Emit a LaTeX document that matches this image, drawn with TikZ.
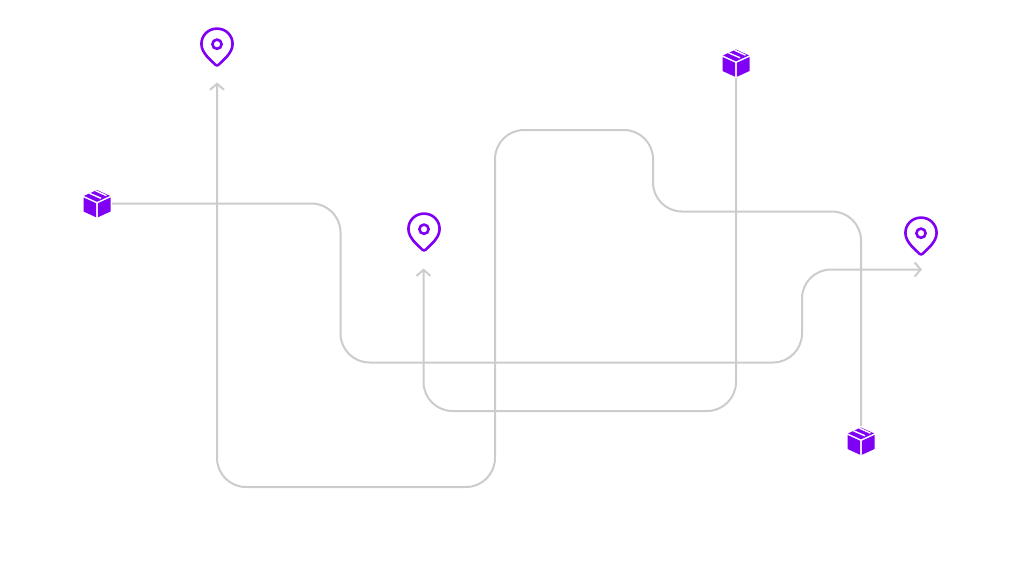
\documentclass[tikz,border=0pt]{standalone}
\usepackage{xcolor}
\usetikzlibrary{arrows.meta}
\definecolor{iconpurple}{HTML}{7F00F5}
\definecolor{routegrey}{HTML}{CCCCCC}
\tikzset{
  route/.style={draw=routegrey, line width=2pt, rounded corners=29pt},
  routeend/.style={-{Straight Barb[length=6pt,width=14pt,line width=2pt]}},
  pinmark/.pic={
    \draw[iconpurple, line width=2.6pt, line join=round]
      (-1.8,17.6) .. controls (-5,14) and (-15.6,6.5) .. (-15.6,-3)
      .. controls (-15.6,-11.8) and (-8.6,-18.4) .. (0,-18.4)
      .. controls (8.6,-18.4) and (15.6,-11.8) .. (15.6,-3)
      .. controls (15.6,6.5) and (5,14) .. (1.8,17.6)
      .. controls (0.8,18.7) and (-0.8,18.7) .. (-1.8,17.6) -- cycle;
    \draw[iconpurple, line width=2.6pt] (0,-2.8) circle (4.6);
  },
  parcelmark/.pic={
    \fill[white] (0,-15) -- (15,-8) -- (15,8) -- (0,15) -- (-15,8) -- (-15,-8) -- cycle;
    \fill[iconpurple] (-13.5,-6) -- (-0.8,-0.2) -- (-0.8,13.8) -- (-13.5,8) -- cycle;
    \fill[iconpurple] (13.5,-6) -- (0.8,-0.2) -- (0.8,13.8) -- (13.5,8) -- cycle;
    \fill[iconpurple] (0,-13.5) -- (13,-7.6) -- (0,-1.7) -- (-13,-7.6) -- cycle;
    \draw[white, line width=1.4pt] (-7.5,-10.2) -- (4,-5.2) (-1.5,-12.8) -- (9.5,-7.8);
  }
}
\begin{document}
\begin{tikzpicture}[x=1pt, y=-1pt]
\useasboundingbox (0,0) rectangle (1024,576);
% icons
\node[inner sep=0pt] (parcelA) at (97,203.5) {};
\node[inner sep=0pt] (parcelB) at (736,63) {};
\node[inner sep=0pt] (parcelC) at (861,441) {};
\node[inner sep=0pt] (pinA) at (217,47) {};
\node[inner sep=0pt] (pinB) at (424,232) {};
\node[inner sep=0pt] (pinC) at (921,236) {};
% arrow ends
\coordinate (endA) at (217,82.5);
\coordinate (endB) at (423.5,268.5);
\coordinate (endC) at (922,269.5);
% routes
\draw[route, routeend] (parcelA) -- (340.5,203.5) -- (340.5,362.5) -- (802,362.5) -- (802,269.5) -- (endC);
\draw[route, routeend] (parcelB) -- (736,411) -- (423.5,411) -- (endB);
\draw[route, routeend] (parcelC) -- (861,211.5) -- (653,211.5) -- (653,130) -- (495,130) -- (495,487) -- (217,487) -- (endA);
\pic at (parcelA) {parcelmark};
\pic at (parcelB) {parcelmark};
\pic at (parcelC) {parcelmark};
\pic at (pinA) {pinmark};
\pic at (pinB) {pinmark};
\pic at (pinC) {pinmark};
\end{tikzpicture}
\end{document}
